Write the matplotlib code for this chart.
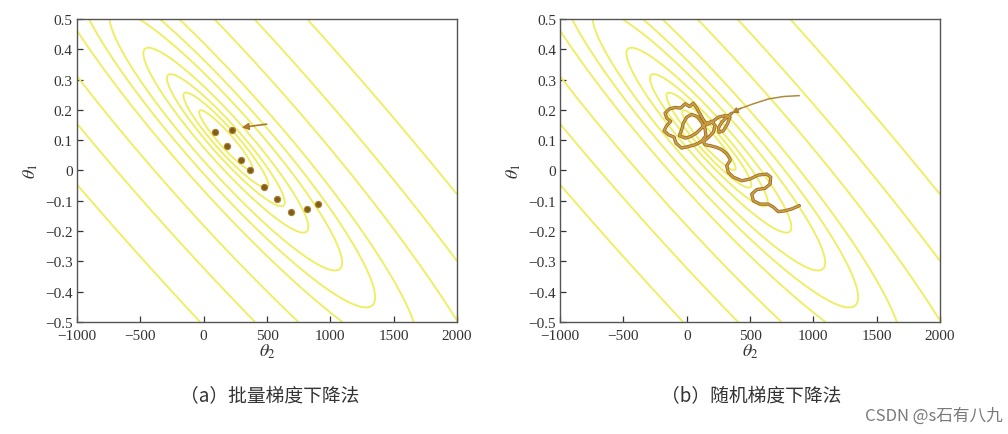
import numpy as np
import matplotlib
matplotlib.use("Agg")
import matplotlib.pyplot as plt
import matplotlib.patheffects as pe

plt.rcParams['font.family'] = ['Liberation Serif', 'DejaVu Serif']
plt.rcParams['mathtext.fontset'] = 'stix'

# axis ticks
x_ticks = [-1000, -500, 0, 500, 1000, 1500, 2000]
y_ticks = [-0.5, -0.4, -0.3, -0.2, -0.1, 0, 0.1, 0.2, 0.3, 0.4, 0.5]

# cost surface (sheared ellipse)
center_t2 = 175.0
center_t1 = 0.10
axis_slope = 0.00044
axis_len = 6200.0
# half-heights of the contour rings
ring_h = [0.034, 0.054, 0.075, 0.105, 0.148, 0.19, 0.245, 0.36, 0.5, 0.69]

# (a) batch gradient descent points
batch_t2 = [903, 813, 689, 577, 479, 366, 292, 187, 89, 221]
batch_t1 = [-0.111, -0.128, -0.138, -0.094, -0.056, 0.0, 0.036, 0.082, 0.128, 0.135]
batch_arrow_t2 = [497, 300]
batch_arrow_t1 = [0.153, 0.142]

# (b) stochastic gradient descent path
sgd_in_t2 = [887, 763, 645, 526, 434, 408, 355]
sgd_in_t1 = [0.247, 0.244, 0.236, 0.220, 0.206, 0.203, 0.189]
sgd_t2 = [355, 316, 276, 250, 255, 289, 321, 342, 302, 250, 197, 158, 131, 105, 79, 52,
          21, -13, -48, -92, -137, -171, -158, -127, -158, -179, -145, -100, -84, -40,
          13, 66, 118, 152, 145, 118, 84, 39, 0, -27, -40, -58, -13, 31, 74, 110, 152,
          197, 224, 210, 171, 131, 145, 184, 237, 276, 316, 342, 342, 316, 328, 368,
          434, 500, 565, 632, 663, 658, 618, 553, 513, 526, 579, 644, 684, 723, 776,
          829, 889]
sgd_t1 = [0.189, 0.176, 0.159, 0.140, 0.126, 0.131, 0.153, 0.176, 0.181, 0.176, 0.159,
          0.151, 0.167, 0.187, 0.206, 0.222, 0.211, 0.220, 0.206, 0.208, 0.203, 0.189,
          0.173, 0.162, 0.148, 0.131, 0.118, 0.110, 0.090, 0.074, 0.079, 0.085, 0.096,
          0.115, 0.137, 0.159, 0.178, 0.185, 0.176, 0.156, 0.134, 0.115, 0.107, 0.112,
          0.123, 0.137, 0.154, 0.162, 0.148, 0.126, 0.109, 0.096, 0.085, 0.082, 0.076,
          0.069, 0.055, 0.038, 0.032, 0.016, -0.006, -0.022, -0.034, -0.028, -0.015,
          -0.012, -0.022, -0.045, -0.059, -0.063, -0.078, -0.100, -0.111, -0.111,
          -0.121, -0.136, -0.133, -0.127, -0.116]

captions = ['（a）批量梯度下降法', '（b）随机梯度下降法']

contour_col = '#eeee5c'
path_col = '#cf9a45'
dark_col = '#7d5f18'


def cost(t2, t1):
    t = t2 - center_t2
    r = (t1 - center_t1) + axis_slope * t
    return r ** 2 + (t / axis_len) ** 2


def setup(ax):
    g2, g1 = np.meshgrid(np.linspace(-1000, 2000, 600), np.linspace(-0.5, 0.5, 600))
    ax.contour(g2, g1, cost(g2, g1), levels=[h ** 2 for h in ring_h],
               colors=contour_col, linewidths=1.3)
    ax.set_xlim(-1000, 2000)
    ax.set_ylim(-0.5, 0.5)
    ax.set_xticks(x_ticks)
    ax.set_xticklabels([str(v).replace('-', '\u2212') for v in x_ticks])
    ax.set_yticks(y_ticks)
    ax.set_yticklabels(['0' if v == 0 else f'{v:.1f}'.replace('-', '\u2212') for v in y_ticks])
    ax.tick_params(direction='in', length=4, width=0.9, labelsize=11, colors='#333333',
                   top=False, right=False)
    ax.tick_params(axis='x', pad=5)
    ax.tick_params(axis='y', pad=3)
    for s in ax.spines.values():
        s.set_color('#555555')
        s.set_linewidth(1.0)
    ax.set_xlabel(r'$\theta_2$', fontsize=13, labelpad=0, color='#333333')
    ax.set_ylabel(r'$\theta_1$', fontsize=13, labelpad=4, color='#333333')


fig = plt.figure(figsize=(10.08, 4.35), dpi=100)
ax1 = fig.add_axes([0.0764, 0.2575, 0.377, 0.6966])
ax2 = fig.add_axes([0.5556, 0.2575, 0.377, 0.6966])
setup(ax1)
setup(ax2)

# (a)
ax1.annotate('', xy=(batch_arrow_t2[1], batch_arrow_t1[1]),
             xytext=(batch_arrow_t2[0], batch_arrow_t1[0]),
             arrowprops=dict(arrowstyle='-|>', color='#a8782c', lw=1.2,
                             mutation_scale=10, shrinkA=0, shrinkB=0))
ax1.plot(batch_t2, batch_t1, 'o', ms=4.5, mfc=dark_col, mec='#b08030', mew=0.8, zorder=5)

# (b)
ax2.plot(sgd_in_t2, sgd_in_t1, color='#b08a3c', lw=1.1, zorder=4)
ax2.annotate('', xy=(sgd_in_t2[-1], sgd_in_t1[-1]),
             xytext=(sgd_in_t2[-3], sgd_in_t1[-3]),
             arrowprops=dict(arrowstyle='-|>', color='#b07a30', lw=1.0,
                             mutation_scale=9, shrinkA=0, shrinkB=0))
ax2.plot(sgd_t2, sgd_t1, color=path_col, lw=1.3, zorder=5, solid_capstyle='round',
         path_effects=[pe.Stroke(linewidth=2.4, foreground='#94701f'), pe.Normal()])

cjk = ['Noto Sans CJK SC', 'DejaVu Sans']
fig.text(0.268, 1 - 397 / 435, captions[0], ha='center', va='center',
         fontsize=13.5, color='#333333', family=cjk)
fig.text(0.745, 1 - 397 / 435, captions[1], ha='center', va='center',
         fontsize=13.5, color='#333333', family=cjk)
fig.text(0.995, 1 - 416 / 435, 'CSDN @s石有八九', ha='right', va='center',
         fontsize=12, color='#7a7a7a', family=cjk)

fig.savefig('out.png', dpi=100, facecolor='white')
